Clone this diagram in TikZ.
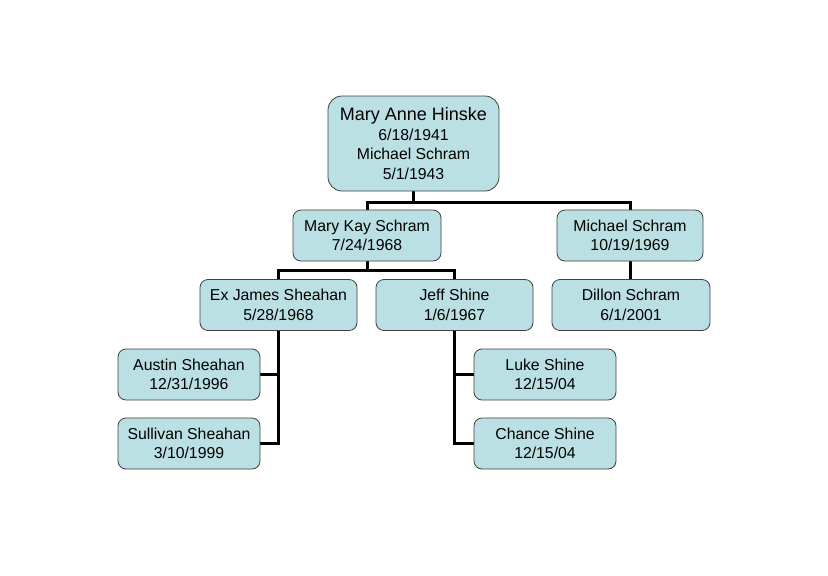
\documentclass[tikz,border=0pt]{standalone}
\usepackage{fontspec}
\setmainfont{Liberation Sans}
\usetikzlibrary{backgrounds}
\definecolor{boxfill}{RGB}{187,224,228}
\tikzset{person/.style={draw=black!75, line width=0.8pt, fill=boxfill, rounded corners=8pt, align=center, inner sep=0pt, minimum width=142pt, minimum height=51pt, font=\fontsize{15.8}{19.5}\selectfont},
  link/.style={line width=3pt}}

\begin{document}
\begin{tikzpicture}[x=1pt,y=-1pt]
\useasboundingbox (0,0) rectangle (828,576);
\node[person, minimum width=171pt, minimum height=95pt, rounded corners=14pt] (root) at (413.5,143.5) {{\fontsize{18}{20}\selectfont Mary Anne Hinske}\\6/18/1941\\Michael Schram\\5/1/1943};
\node[person, minimum width=148pt] (kay) at (367,235.5) {Mary Kay Schram\\7/24/1968};
\node[person, minimum width=146pt] (mike) at (630,235.5) {Michael Schram\\10/19/1969};
\node[person, minimum width=157pt] (james) at (278.5,305) {Ex James Sheahan\\5/28/1968};
\node[person, minimum width=157pt] (jeff) at (454.5,305) {Jeff Shine\\1/6/1967};
\node[person, minimum width=158pt] (dillon) at (631,305) {Dillon Schram\\6/1/2001};
\node[person] (austin) at (189,374.5) {Austin Sheahan\\12/31/1996};
\node[person] (sullivan) at (189,443.5) {Sullivan Sheahan\\3/10/1999};
\node[person] (luke) at (545,374.5) {Luke Shine\\12/15/04};
\node[person] (chance) at (545,443.5) {Chance Shine\\12/15/04};
% connectors
\begin{scope}[on background layer]
\draw[link] (root.south) -- ++(0,11) coordinate (rootjoin);
\draw[link] (rootjoin) -| (kay.north);
\draw[link] (rootjoin) -| (mike.north);
\draw[link] (mike.south) -- (mike.south |- dillon.north);
\draw[link] (kay.south) -- ++(0,9) coordinate (kayjoin);
\draw[link] (kayjoin) -| (james.north);
\draw[link] (kayjoin) -| (jeff.north);
\foreach \kid in {austin,sullivan} {
  \draw[link] (james.south) |- (\kid.east);
}
\foreach \kid in {luke,chance} {
  \draw[link] (jeff.south) |- (\kid.west);
}
\end{scope}
\end{tikzpicture}
\end{document}
